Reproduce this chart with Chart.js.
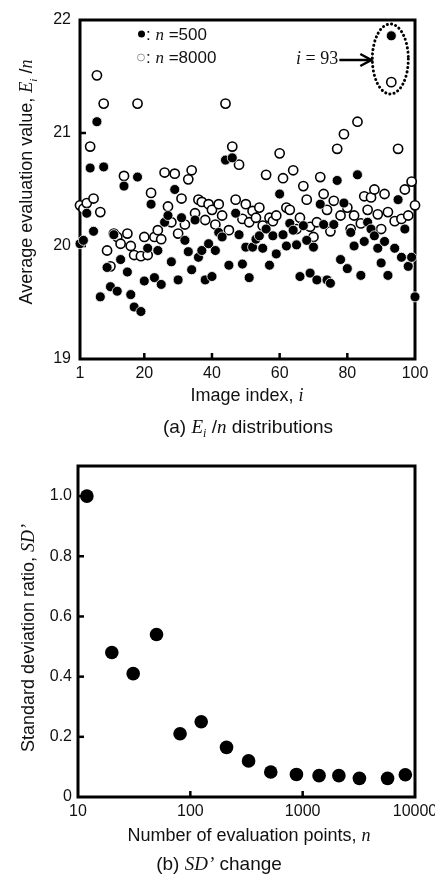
<!DOCTYPE html>
<html>
<head>
<meta charset="utf-8">
<script src="https://cdn.jsdelivr.net/npm/chart.js@4.4.1/dist/chart.umd.min.js"></script>
<style>
  html,body{margin:0;padding:0;background:#fff;}
  #wrap{position:relative;width:435px;height:876px;overflow:hidden;font-family:"Liberation Sans",Arial,sans-serif;color:#111;}
  canvas{position:absolute;left:0;}
  .t{position:absolute;white-space:nowrap;line-height:1;}
  .c{transform:translate(-50%,-50%);}
  .l{transform:translate(0,-50%);}
  .r{transform:translate(-50%,-50%) rotate(-90deg);}
  .s{font-family:"Liberation Serif","Times New Roman",serif;font-style:italic;}
  .dot{display:inline-block;width:7px;height:7px;border-radius:50%;vertical-align:middle;margin-right:1px;position:relative;top:-1px;}
</style>
</head>
<body>
<div id="wrap">
  <canvas id="c1" width="435" height="410" style="top:0;width:435px;height:410px"></canvas>
  <canvas id="c2" width="435" height="410" style="top:440px;width:435px;height:410px"></canvas>

  <div class="t l" style="left:138px;top:34px;font-size:17px;"><span class="dot" style="background:#000"></span>: <span class="s">n</span> =500</div>
  <div class="t l" style="left:137px;top:57px;font-size:17px;"><span class="dot" style="border:1px solid #999;width:6px;height:6px;"></span>: <span class="s">n</span> =8000</div>
  <div class="t l s" style="left:296px;top:58px;font-size:18px;font-style:normal;"><i>i</i> = 93</div>

  <div class="t r" style="left:28px;top:182px;font-size:18px;">Average evaluation value, <span class="s">E<sub style="font-size:11px">i</sub></span> /<span class="s">n</span></div>
  <div class="t c" style="left:247px;top:395px;font-size:18px;">Image index, <span class="s">i</span></div>
  <div class="t c" style="left:248px;top:428px;font-size:19px;">(a) <span class="s">E<sub style="font-size:12px">i</sub></span> /<span class="s">n</span> distributions</div>

  <div class="t r" style="left:28px;top:638px;font-size:18px;">Standard deviation ratio, <span class="s">SD’</span></div>
  <div class="t c" style="left:249px;top:835px;font-size:18px;">Number of evaluation points, <span class="s">n</span></div>
  <div class="t c" style="left:219px;top:863px;font-size:19px;">(b) <span class="s">SD’</span> change</div>
</div>
<script>
// ---------- Data: panel (a) ----------
const imageIndex = Array.from({length:100},(_,k)=>k+1);
const n500 = [
 20.02,20.05,20.29,20.69,20.13,21.10,19.55,20.70,19.81,19.64,
 20.10,19.60,19.88,20.53,19.77,19.57,19.46,20.61,19.42,19.69,
 19.98,20.37,19.72,19.96,19.66,20.21,20.27,19.86,20.50,19.70,
 20.25,20.05,19.95,19.79,20.23,19.90,19.96,19.70,20.02,19.73,
 19.96,20.12,20.08,20.76,19.83,20.78,20.29,20.10,19.84,19.99,
 19.72,19.99,20.06,20.09,19.98,20.15,19.83,20.09,19.93,20.46,
 20.10,20.00,20.20,20.14,20.01,19.73,20.18,20.05,19.76,19.99,
 19.70,20.37,20.19,19.70,19.67,20.19,20.58,19.88,20.38,19.80,
 20.12,20.00,20.63,19.74,20.04,20.21,20.15,20.09,19.98,19.85,
 20.04,19.74,21.86,19.98,20.41,19.90,20.15,19.82,19.90,19.55
];
const n8000 = [
 20.36,20.33,20.38,20.88,20.42,21.51,20.30,21.26,19.96,19.82,
 20.11,20.08,20.02,20.62,20.11,20.00,19.92,21.26,19.91,20.08,
 19.92,20.47,20.08,20.14,20.06,20.65,20.35,20.21,20.64,20.11,
 20.42,20.19,20.59,20.67,20.29,20.41,20.39,20.23,20.37,20.32,
 20.19,20.37,20.27,21.26,20.14,20.88,20.41,20.72,20.24,20.37,
 20.21,20.31,20.25,20.34,20.18,20.63,20.25,20.22,20.27,20.82,
 20.60,20.34,20.32,20.67,20.15,20.25,20.53,20.41,20.17,20.08,
 20.21,20.61,20.46,20.32,20.13,20.40,20.86,20.27,20.99,20.34,
 20.15,20.27,21.10,20.20,20.44,20.32,20.43,20.50,20.28,20.15,
 20.46,20.30,21.45,20.22,20.86,20.24,20.50,20.27,20.57,20.36
];
const xTicksA = [1,20,40,60,80,100];
const yTicksA = [19,20,21,22];
const markedIndex = 93;

// ---------- Data: panel (b) ----------
const nPoints = [12,20,31,50,81,125,210,330,520,880,1400,2100,3200,5700,8200];
const sdRatio = [1.0,0.48,0.41,0.54,0.21,0.25,0.165,0.12,0.083,0.075,0.071,0.071,0.062,0.062,0.074];
const xTicksB = [10,100,1000,10000];
const yTicksB = [0,0.2,0.4,0.6,0.8,1.0];

Chart.defaults.font.family = '"Liberation Sans", Arial, sans-serif';
Chart.defaults.color = '#111';

const framePlugin = {
  id:'frame',
  beforeDatasetsDraw(chart){
    const ctx = chart.ctx, a = chart.chartArea;
    ctx.save();
    ctx.strokeStyle = '#000';
    ctx.lineWidth = 3;
    ctx.strokeRect(a.left, a.top, a.right-a.left, a.bottom-a.top);
    // inward ticks
    ctx.lineWidth = 2.5;
    const xs = chart.scales.x, ys = chart.scales.y;
    xs.ticks.forEach(t=>{
      const p = xs.getPixelForValue(t.value);
      if (p > a.left+3 && p < a.right-3){ ctx.beginPath(); ctx.moveTo(p,a.bottom); ctx.lineTo(p,a.bottom-6); ctx.stroke(); }
    });
    ys.ticks.forEach(t=>{
      const p = ys.getPixelForValue(t.value);
      if (p > a.top+3 && p < a.bottom-3){ ctx.beginPath(); ctx.moveTo(a.left,p); ctx.lineTo(a.left+6,p); ctx.stroke(); }
    });
    ctx.restore();
  }
};

const markPlugin = {
  id:'mark',
  afterDatasetsDraw(chart){
    const ctx = chart.ctx;
    const xs = chart.scales.x, ys = chart.scales.y;
    const k = imageIndex.indexOf(markedIndex);
    const cx = xs.getPixelForValue(markedIndex) - 1;
    const cy = (ys.getPixelForValue(n500[k]) + ys.getPixelForValue(n8000[k]))/2;
    ctx.save();
    ctx.strokeStyle = '#000';
    ctx.lineWidth = 3;
    ctx.setLineDash([0.1,4.2]);
    ctx.lineCap = 'round';
    ctx.beginPath();
    ctx.ellipse(cx, cy, 18, 35, 0, 0, Math.PI*2);
    ctx.stroke();
    ctx.setLineDash([]);
    // arrow
    const ay = cy + 1;
    ctx.lineWidth = 2.5;
    ctx.lineCap = 'butt';
    ctx.beginPath(); ctx.moveTo(cx-51, ay); ctx.lineTo(cx-19, ay); ctx.stroke();
    ctx.lineWidth = 2.5;
    ctx.beginPath(); ctx.moveTo(cx-30, ay-6); ctx.lineTo(cx-19, ay); ctx.lineTo(cx-30, ay+6); ctx.stroke();
    ctx.restore();
  }
};

function fixBox(w, h){
  return function(s){
    if (w !== null) s.width = w;
    if (h !== null) s.height = h;
    s.paddingLeft = 0; s.paddingRight = 0; s.paddingTop = 0; s.paddingBottom = 0;
  };
}

new Chart(document.getElementById('c1'), {
  type:'scatter',
  data:{
    datasets:[
      { label:'n=500', data: imageIndex.map((x,k)=>({x, y:n500[k]})),
        pointRadius:5, pointBackgroundColor:'#000', pointBorderColor:'#fff', pointBorderWidth:0.8, clip:false },
      { label:'n=8000', data: imageIndex.map((x,k)=>({x, y:n8000[k]})),
        pointRadius:4.6, pointBackgroundColor:'#fff', pointBorderColor:'#000', pointBorderWidth:1.6, clip:false }
    ]
  },
  options:{
    responsive:false, animation:false, devicePixelRatio:1,
    layout:{padding:{left:0,right:20,top:20,bottom:0}},
    plugins:{legend:{display:false}, tooltip:{enabled:false}},
    scales:{
      x:{ type:'linear', min:1, max:100,
          afterBuildTicks(s){ s.ticks = xTicksA.map(v=>({value:v})); },
          afterFit: fixBox(null, 51),
          grid:{display:false, drawTicks:false}, border:{display:false},
          ticks:{font:{size:16}, color:'#111', padding:5, maxRotation:0, autoSkip:false} },
      y:{ type:'linear', min:19, max:22,
          afterBuildTicks(s){ s.ticks = yTicksA.map(v=>({value:v})); },
          afterFit: fixBox(80, null),
          grid:{display:false, drawTicks:false}, border:{display:false},
          ticks:{font:{size:16}, color:'#111', padding:9, autoSkip:false} }
    }
  },
  plugins:[framePlugin, markPlugin]
});

new Chart(document.getElementById('c2'), {
  type:'scatter',
  data:{
    datasets:[
      { label:'SD ratio', data: nPoints.map((x,k)=>({x, y:sdRatio[k]})),
        pointRadius:6.8, pointBackgroundColor:'#000', pointBorderColor:'#000', pointBorderWidth:0, clip:false }
    ]
  },
  options:{
    responsive:false, animation:false, devicePixelRatio:1,
    layout:{padding:{left:0,right:20,top:26,bottom:0}},
    plugins:{legend:{display:false}, tooltip:{enabled:false}},
    scales:{
      x:{ type:'logarithmic', min:10, max:10000,
          afterBuildTicks(s){ s.ticks = xTicksB.map(v=>({value:v})); },
          afterFit: fixBox(null, 53),
          grid:{display:false, drawTicks:false}, border:{display:false},
          ticks:{font:{size:16}, color:'#111', padding:5, maxRotation:0, autoSkip:false,
                 callback:(v)=>String(v)} },
      y:{ type:'linear', min:0, max:1.1,
          afterBuildTicks(s){ s.ticks = yTicksB.map(v=>({value:v})); },
          afterFit: fixBox(78, null),
          grid:{display:false, drawTicks:false}, border:{display:false},
          ticks:{font:{size:16}, color:'#111', padding:6, autoSkip:false,
                 callback:(v)=> v===0 ? '0' : v.toFixed(1)} }
    }
  },
  plugins:[framePlugin]
});
</script>
</body>
</html>
